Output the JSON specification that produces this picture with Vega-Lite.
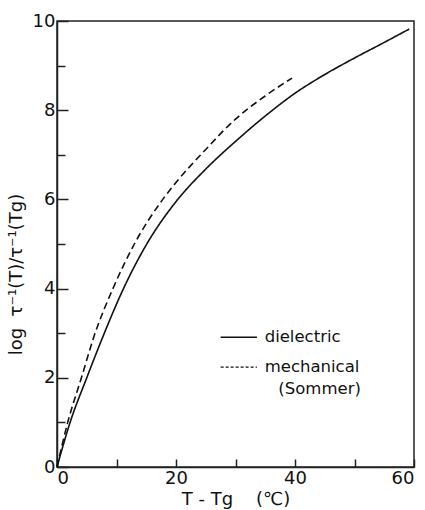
{
  "$schema": "https://vega.github.io/schema/vega-lite/v6.json",
  "width": 357,
  "height": 446,
  "autosize": {"type": "none"},
  "padding": {"left": 57, "top": 21, "right": 11, "bottom": 43},
  "background": "white",
  "config": {
    "font": "DejaVu Sans",
    "view": {"stroke": "#222", "strokeWidth": 1.5},
    "axis": {
      "domainColor": "#222",
      "domainWidth": 1.5,
      "tickColor": "#222",
      "tickWidth": 1.5,
      "grid": false,
      "labelFont": "DejaVu Sans",
      "labelFontSize": 18,
      "labelColor": "#111",
      "titleFont": "DejaVu Sans",
      "titleFontSize": 18,
      "titleFontWeight": "normal",
      "titleColor": "#111"
    }
  },
  "datasets": {
    "curves": [
      {"series": "dielectric", "x": 0, "y": 0},
      {"series": "dielectric", "x": 2.2, "y": 1.0},
      {"series": "dielectric", "x": 5.0, "y": 2.0},
      {"series": "dielectric", "x": 7.8, "y": 2.95},
      {"series": "dielectric", "x": 11.0, "y": 3.95},
      {"series": "dielectric", "x": 15.0, "y": 4.98},
      {"series": "dielectric", "x": 20.0, "y": 5.95},
      {"series": "dielectric", "x": 25.0, "y": 6.68},
      {"series": "dielectric", "x": 30.0, "y": 7.3},
      {"series": "dielectric", "x": 35.0, "y": 7.87},
      {"series": "dielectric", "x": 40.0, "y": 8.38},
      {"series": "dielectric", "x": 45.0, "y": 8.8},
      {"series": "dielectric", "x": 50.0, "y": 9.17},
      {"series": "dielectric", "x": 55.0, "y": 9.52},
      {"series": "dielectric", "x": 59.2, "y": 9.82},
      {"series": "mechanical", "x": 0, "y": 0},
      {"series": "mechanical", "x": 1.8, "y": 1.0},
      {"series": "mechanical", "x": 4.1, "y": 2.0},
      {"series": "mechanical", "x": 6.4, "y": 3.0},
      {"series": "mechanical", "x": 9.4, "y": 4.0},
      {"series": "mechanical", "x": 13.0, "y": 5.0},
      {"series": "mechanical", "x": 17.5, "y": 5.95},
      {"series": "mechanical", "x": 20.0, "y": 6.38},
      {"series": "mechanical", "x": 25.0, "y": 7.12},
      {"series": "mechanical", "x": 30.0, "y": 7.8},
      {"series": "mechanical", "x": 35.0, "y": 8.32},
      {"series": "mechanical", "x": 39.5, "y": 8.72}
    ],
    "legendLines": [
      {"series": "dielectric", "x": 27.5, "x2": 33.6, "y": 2.91},
      {"series": "mechanical", "x": 27.5, "x2": 33.6, "y": 2.24}
    ],
    "legendText": [
      {"label": "dielectric", "x": 34.9, "y": 2.91},
      {"label": "mechanical", "x": 34.9, "y": 2.24},
      {"label": "(Sommer)", "x": 37.2, "y": 1.76}
    ]
  },
  "layer": [
    {
      "data": {"name": "curves"},
      "mark": {"type": "line", "color": "#111", "strokeWidth": 1.6, "interpolate": "monotone"},
      "encoding": {
        "x": {
          "field": "x", "type": "quantitative",
          "scale": {"domain": [0, 60], "nice": false, "zero": false},
          "axis": {
            "values": [0, 10, 20, 30, 40, 50, 60],
            "labelExpr": "datum.value % 20 === 0 ? datum.label : ''",
            "tickSize": -8,
            "labelPadding": 10,
            "title": "T - Tg\u00a0\u00a0\u00a0\u00a0(℃)",
            "titlePadding": 3
          }
        },
        "y": {
          "field": "y", "type": "quantitative",
          "scale": {"domain": [0, 10], "nice": false, "zero": false},
          "axis": {
            "values": [0, 1, 2, 3, 4, 5, 6, 7, 8, 9, 10],
            "labelExpr": "datum.value % 2 === 0 ? datum.label : ''",
            "tickSize": {"condition": {"test": "datum.value % 2 === 0", "value": -11}, "value": -8},
            "labelPadding": 13,
            "title": "log\u00a0\u00a0τ⁻¹(T)/τ⁻¹(Tg)",
            "titlePadding": 7,
            "titleY": 253
          }
        },
        "strokeDash": {
          "field": "series", "type": "nominal",
          "scale": {"domain": ["dielectric", "mechanical"], "range": [[1, 0], [7, 4]]},
          "legend": null
        }
      }
    },
    {
      "data": {"name": "legendLines"},
      "mark": {"type": "rule", "color": "#111", "strokeWidth": 1.4},
      "encoding": {
        "x": {"field": "x", "type": "quantitative"},
        "x2": {"field": "x2"},
        "y": {"field": "y", "type": "quantitative"},
        "strokeDash": {
          "field": "series", "type": "nominal",
          "scale": {"domain": ["dielectric", "mechanical"], "range": [[1, 0], [3, 2]]},
          "legend": null
        }
      }
    },
    {
      "data": {"name": "legendText"},
      "mark": {"type": "text", "align": "left", "baseline": "middle", "fontSize": 16.5, "color": "#111", "font": "DejaVu Sans"},
      "encoding": {
        "x": {"field": "x", "type": "quantitative"},
        "y": {"field": "y", "type": "quantitative"},
        "text": {"field": "label"}
      }
    }
  ],
  "resolve": {"scale": {"strokeDash": "independent"}}
}
